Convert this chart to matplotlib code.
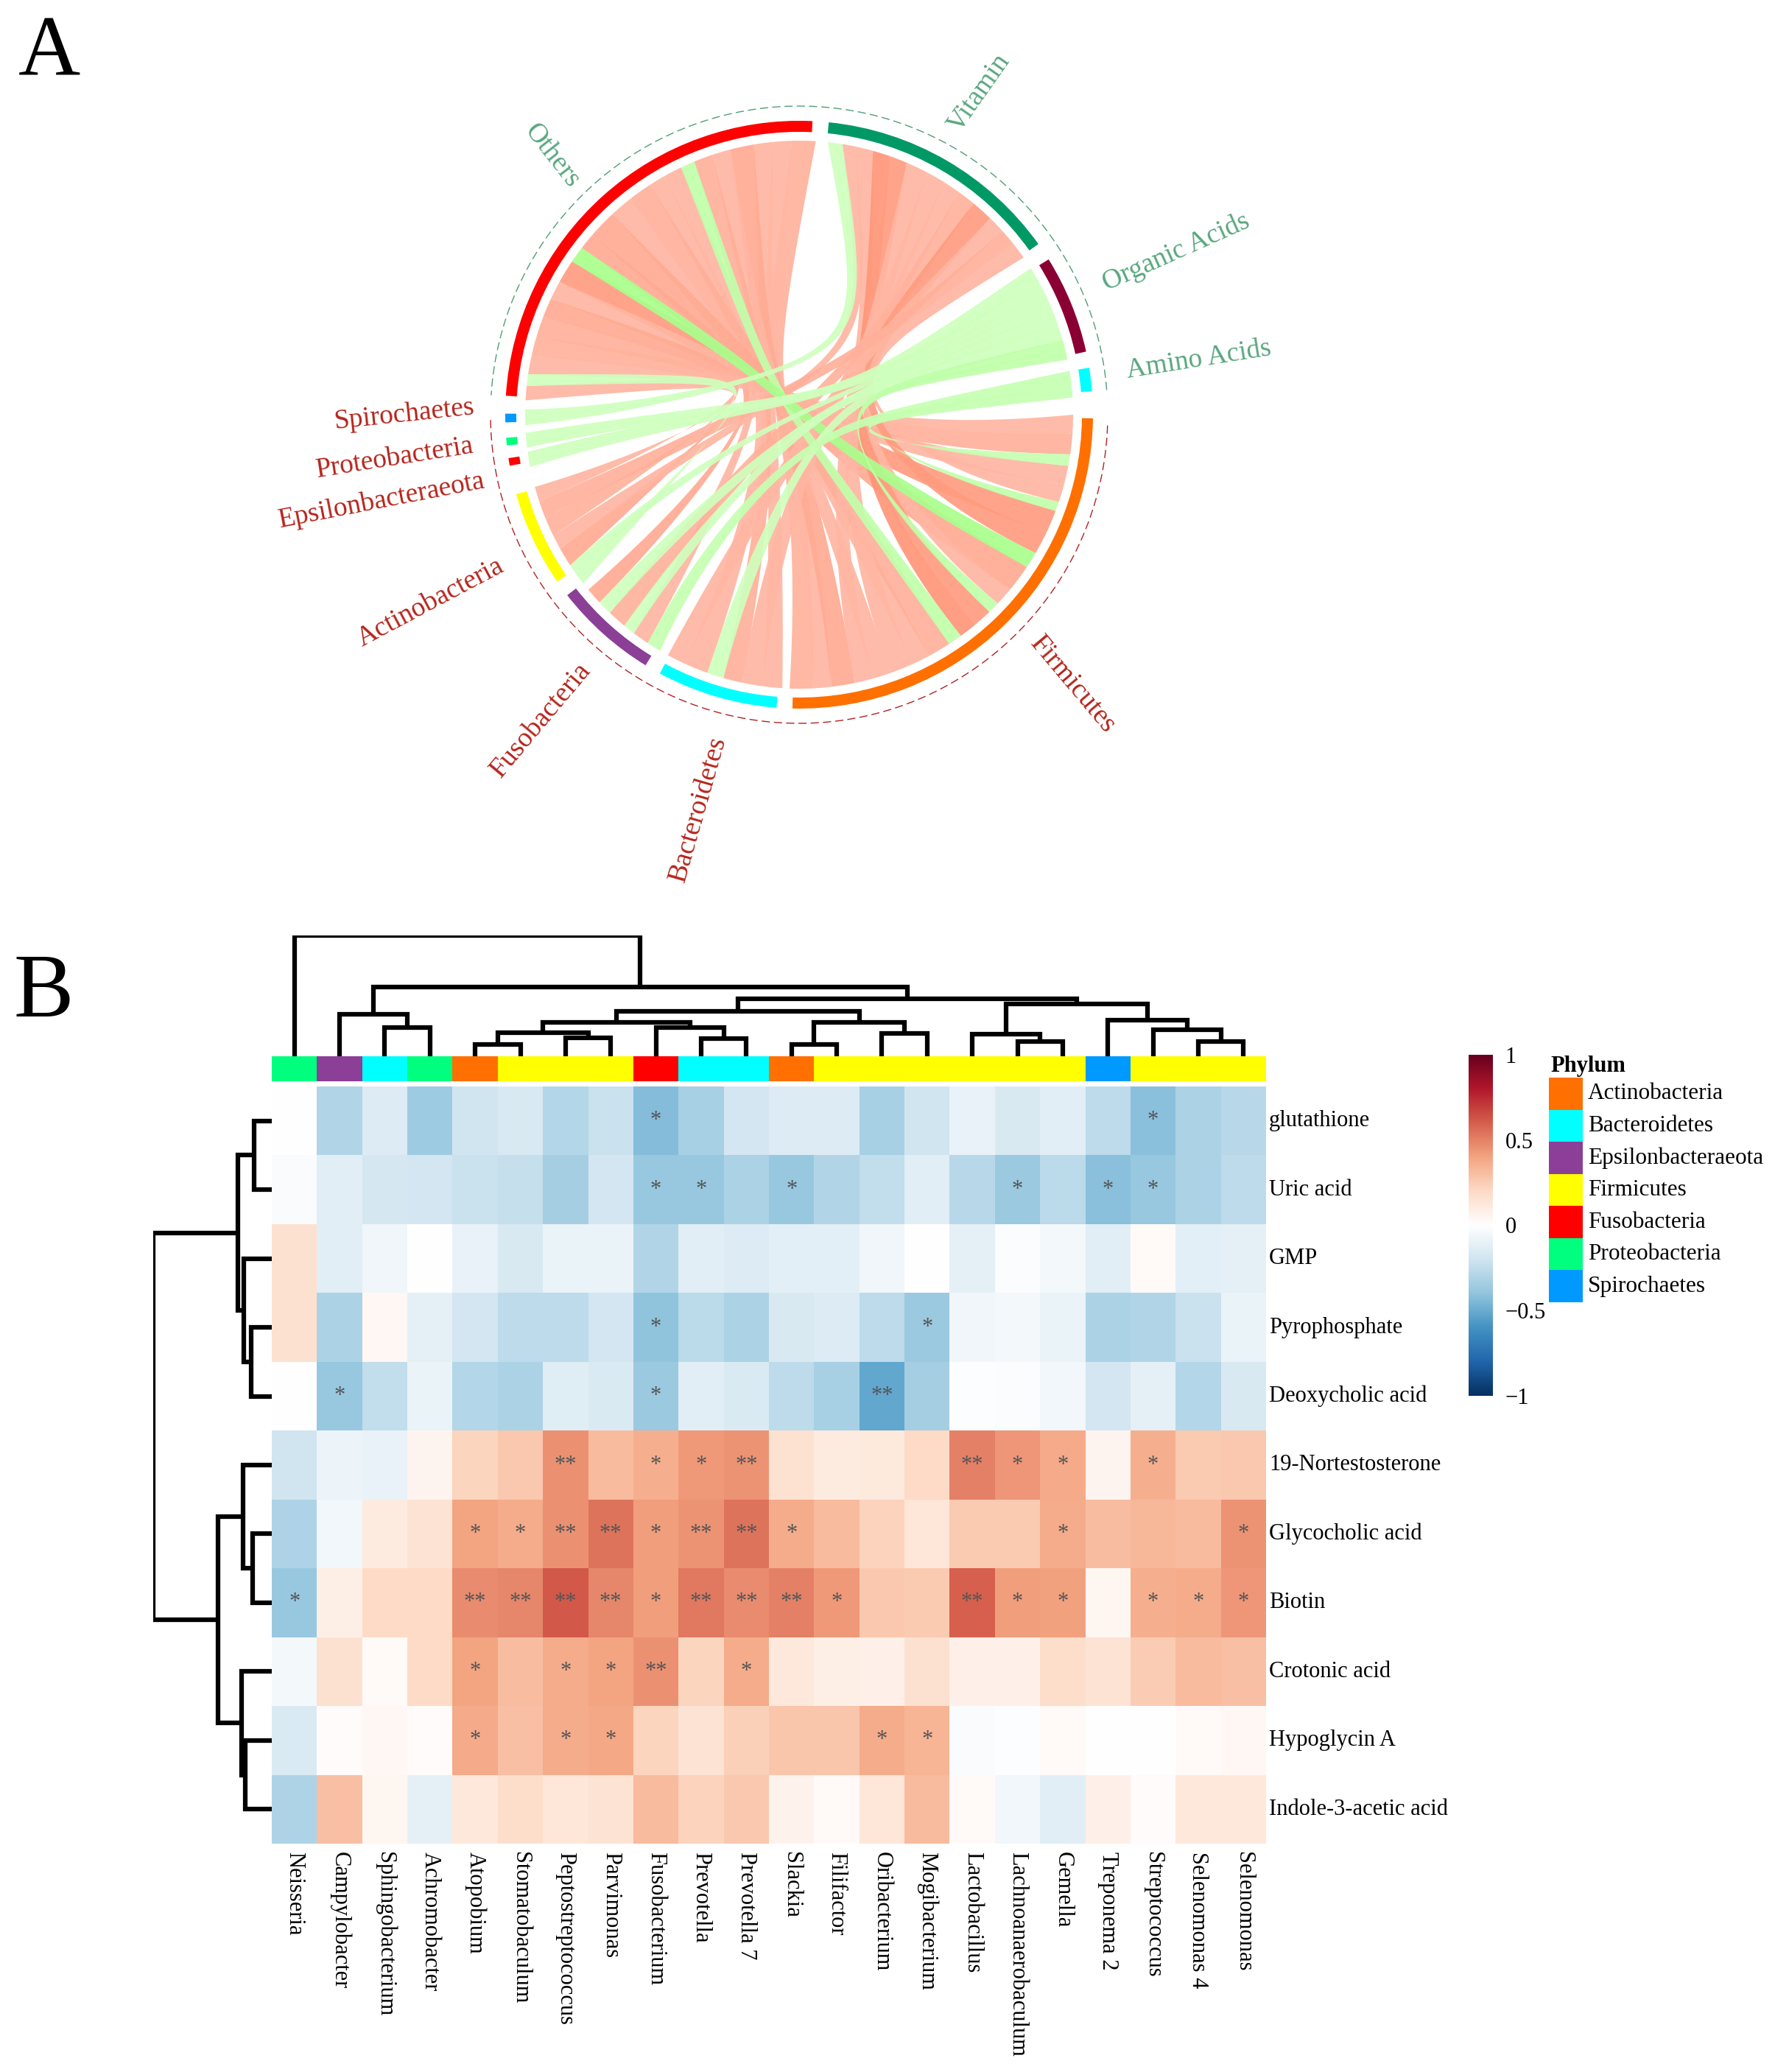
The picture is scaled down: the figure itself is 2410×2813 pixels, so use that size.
#!/usr/bin/env python3
import numpy as np
import matplotlib
matplotlib.use("Agg")
import matplotlib.pyplot as plt
from math import comb
from matplotlib.colors import LinearSegmentedColormap
from matplotlib.patches import Polygon, Wedge, Rectangle

plt.rcParams["font.family"] = ["Liberation Serif", "DejaVu Serif"]

W, H = 2410, 2813

genera = ["Neisseria", "Campylobacter", "Sphingobacterium", "Achromobacter", "Atopobium",
          "Stomatobaculum", "Peptostreptococcus", "Parvimonas", "Fusobacterium", "Prevotella",
          "Prevotella 7", "Slackia", "Filifactor", "Oribacterium", "Mogibacterium", "Lactobacillus",
          "Lachnoanaerobaculum", "Gemella", "Treponema 2", "Streptococcus", "Selenomonas 4", "Selenomonas"]
metabolites = ["glutathione", "Uric acid", "GMP", "Pyrophosphate", "Deoxycholic acid", "19-Nortestosterone",
               "Glycocholic acid", "Biotin", "Crotonic acid", "Hypoglycin A", "Indole-3-acetic acid"]
column_phylum = ["Proteobacteria", "Epsilonbacteraeota", "Bacteroidetes", "Proteobacteria", "Actinobacteria",
                 "Firmicutes", "Firmicutes", "Firmicutes", "Fusobacteria", "Bacteroidetes", "Bacteroidetes",
                 "Actinobacteria", "Firmicutes", "Firmicutes", "Firmicutes", "Firmicutes", "Firmicutes",
                 "Firmicutes", "Spirochaetes", "Firmicutes", "Firmicutes", "Firmicutes"]

corr = [
    [0.00, -0.30, -0.15, -0.36, -0.20, -0.17, -0.29, -0.22, -0.43, -0.33, -0.19, -0.15, -0.15, -0.33, -0.20, -0.10, -0.17, -0.13, -0.26, -0.42, -0.32, -0.28],
    [-0.03, -0.13, -0.18, -0.19, -0.22, -0.24, -0.34, -0.19, -0.38, -0.38, -0.32, -0.38, -0.30, -0.25, -0.13, -0.28, -0.37, -0.27, -0.42, -0.38, -0.32, -0.26],
    [0.17, -0.13, -0.07, 0.00, -0.10, -0.17, -0.09, -0.09, -0.30, -0.13, -0.15, -0.12, -0.12, -0.07, 0.00, -0.11, -0.02, -0.05, -0.13, 0.03, -0.12, -0.11],
    [0.17, -0.32, 0.04, -0.11, -0.19, -0.26, -0.26, -0.19, -0.40, -0.27, -0.32, -0.17, -0.15, -0.26, -0.37, -0.07, -0.05, -0.09, -0.32, -0.30, -0.22, -0.09],
    [0.00, -0.38, -0.25, -0.09, -0.29, -0.32, -0.14, -0.16, -0.37, -0.13, -0.16, -0.26, -0.33, -0.52, -0.34, -0.01, -0.02, -0.06, -0.19, -0.11, -0.29, -0.17],
    [-0.20, -0.08, -0.10, 0.06, 0.22, 0.27, 0.46, 0.32, 0.36, 0.43, 0.45, 0.16, 0.11, 0.12, 0.20, 0.50, 0.44, 0.38, 0.06, 0.36, 0.26, 0.27],
    [-0.31, -0.06, 0.11, 0.15, 0.40, 0.37, 0.46, 0.54, 0.42, 0.45, 0.54, 0.37, 0.32, 0.23, 0.14, 0.26, 0.26, 0.37, 0.31, 0.33, 0.32, 0.45],
    [-0.38, 0.09, 0.20, 0.20, 0.47, 0.49, 0.62, 0.49, 0.42, 0.53, 0.47, 0.50, 0.43, 0.27, 0.26, 0.60, 0.42, 0.41, 0.05, 0.36, 0.37, 0.44],
    [-0.05, 0.17, 0.03, 0.20, 0.40, 0.31, 0.37, 0.40, 0.46, 0.22, 0.37, 0.13, 0.09, 0.08, 0.17, 0.08, 0.08, 0.18, 0.15, 0.25, 0.32, 0.30],
    [-0.16, 0.02, 0.04, 0.02, 0.38, 0.30, 0.37, 0.39, 0.22, 0.15, 0.24, 0.28, 0.28, 0.37, 0.34, -0.03, -0.01, 0.03, 0.00, 0.00, 0.03, 0.04],
    [-0.31, 0.30, 0.05, -0.11, 0.13, 0.18, 0.14, 0.15, 0.32, 0.23, 0.27, 0.07, 0.03, 0.14, 0.32, 0.03, -0.06, -0.13, 0.08, 0.02, 0.13, 0.13],
]

sig_single = {0: [8, 19], 1: [8, 9, 11, 16, 18, 19], 3: [8, 14], 4: [1, 8],
              5: [8, 9, 16, 17, 19], 6: [4, 5, 8, 11, 17, 21], 7: [0, 8, 12, 16, 17, 19, 20, 21],
              8: [4, 6, 7, 10], 9: [4, 6, 7, 13, 14]}
sig_double = {4: [13], 5: [6, 10, 15], 6: [6, 7, 9, 10], 7: [4, 5, 6, 7, 9, 10, 11, 15], 8: [8]}

# merges as (child, child, height); ids from n_leaves upward are earlier merges
col_merges = [(4, 5, 32), (6, 7, 48), (22, 23, 63), (9, 10, 46), (8, 25, 77), (24, 26, 90),
              (11, 12, 32), (13, 14, 60), (28, 29, 90), (27, 30, 120), (16, 17, 40), (15, 32, 58),
              (20, 21, 40), (19, 34, 70), (18, 35, 95), (33, 36, 138), (31, 37, 152),
              (2, 3, 77), (1, 39, 112), (40, 38, 184), (0, 41, 320)]
row_merges = [(0, 1, 24), (3, 4, 28), (2, 12, 38), (11, 13, 46), (6, 7, 26), (5, 15, 39),
              (9, 10, 36), (8, 17, 41), (16, 18, 73), (14, 19, 161)]

phylum_names = ["Actinobacteria", "Bacteroidetes", "Epsilonbacteraeota", "Firmicutes",
                "Fusobacteria", "Proteobacteria", "Spirochaetes"]
phylum_colors = ["#FF7000", "#00FFFF", "#8B3F96", "#FFFF00", "#FF0000", "#00FF7F", "#0099FF"]

# sector: name -> track start, track end, chord start, chord end, colour
sectors = {
    "Others": (87.4, 176.3, 86.5, 177.0, "#FF0000"),
    "Vitamin": (84.2, 35.5, 84.0, 35.0, "#009966"),
    "Organic Acids": (31.9, 12.4, 32.3, 11.6, "#8B0033"),
    "Amino Acids": (9.2, 4.6, 9.2, 3.6, "#00FFFF"),
    "Firmicutes": (-0.7, -91.3, 0.0, -92.0, "#FF7000"),
    "Bacteroidetes": (265.6, 241.7, 266.5, 241.4, "#00FFFF"),
    "Fusobacteria": (238.5, 217.9, 239.5, 219.7, "#8B3F96"),
    "Actinobacteria": (214.6, 195.7, 218.0, 195.3, "#FFFF00"),
    "Epsilonbacteraeota": (190.0, 188.5, 191.0, 187.8, "#FF0000"),
    "Proteobacteria": (186.0, 184.5, 186.9, 183.8, "#00FF7F"),
    "Spirochaetes": (181.5, 179.8, 182.2, 178.9, "#0099FF"),
}

# where the ribbons of a sector pull towards, in pixels from the circle centre
hubs = {
    "Others": (-45, 51), "Vitamin": (95, 90), "Organic Acids": (75, 30), "Amino Acids": (85, -5),
    "Firmicutes": (15, -40), "Bacteroidetes": (-25, -55), "Fusobacteria": (-60, -40),
    "Actinobacteria": (-100, -15), "Epsilonbacteraeota": (-150, 0),
    "Proteobacteria": (-150, 5), "Spirochaetes": (-150, 10),
}

# chords: metabolite class, phylum, width, correlation, order inside the phylum
links = [
    ("Others", "Firmicutes", 5, .32, 23), ("Others", "Firmicutes", 4, .30, 22),
    ("Others", "Bacteroidetes", 4, .30, 1), ("Others", "Firmicutes", 5, .35, 21),
    ("Others", "Firmicutes", 4, .30, 19), ("Others", "Bacteroidetes", 4, .33, 3),
    ("Others", "Firmicutes", 3, -.30, 15), ("Others", "Firmicutes", 4, .30, 17),
    ("Others", "Fusobacteria", 3.5, .30, 2), ("Others", "Firmicutes", 5, .33, 16),
    ("Others", "Bacteroidetes", 5, .30, 5), ("Others", "Firmicutes", 6, .35, 10),
    ("Others", "Fusobacteria", 3.5, .35, 6), ("Others", "Firmicutes", 3.5, -.38, 9),
    ("Others", "Firmicutes", 5, .42, 7), ("Others", "Firmicutes", 4, .30, 4),
    ("Others", "Actinobacteria", 4, .35, 3), ("Others", "Firmicutes", 4.5, .33, 2),
    ("Others", "Actinobacteria", 4, .32, 5), ("Others", "Firmicutes", 4, .30, 1),
    ("Others", "Actinobacteria", 2.5, -.25, 1), ("Others", "Actinobacteria", 3, .30, 7),
    ("Vitamin", "Spirochaetes", 3.3, -.25, 1), ("Vitamin", "Actinobacteria", 3, .30, 4),
    ("Vitamin", "Firmicutes", 4, .30, 20), ("Vitamin", "Firmicutes", 4, .45, 14),
    ("Vitamin", "Firmicutes", 4, .42, 13), ("Vitamin", "Firmicutes", 5, .30, 18),
    ("Vitamin", "Bacteroidetes", 4.5, .30, 2), ("Vitamin", "Firmicutes", 4, .30, 11),
    ("Vitamin", "Fusobacteria", 4, .32, 4), ("Vitamin", "Firmicutes", 5, .42, 8),
    ("Vitamin", "Bacteroidetes", 4, .30, 6), ("Vitamin", "Actinobacteria", 3.5, .33, 6),
    ("Vitamin", "Firmicutes", 4, .30, 5),
    ("Organic Acids", "Epsilonbacteraeota", 3.4, -.25, 1), ("Organic Acids", "Proteobacteria", 3.1, -.25, 1),
    ("Organic Acids", "Actinobacteria", 2, -.25, 2), ("Organic Acids", "Fusobacteria", 2.5, -.25, 3),
    ("Organic Acids", "Fusobacteria", 3, -.25, 5), ("Organic Acids", "Bacteroidetes", 3.5, -.25, 4),
    ("Organic Acids", "Firmicutes", 2.5, -.30, 12), ("Organic Acids", "Firmicutes", 2, -.30, 6),
    ("Amino Acids", "Fusobacteria", 3, -.28, 1), ("Amino Acids", "Firmicutes", 2.5, -.28, 3),
]

class_labels = ["Others", "Vitamin", "Organic Acids", "Amino Acids"]
class_rot = [-52, 55, 24, 9]
class_xy = [(750, 212), (1329, 126), (1597, 342), (1628, 488)]
phyl_labels = ["Spirochaetes", "Proteobacteria", "Epsilonbacteraeota", "Actinobacteria",
               "Fusobacteria", "Bacteroidetes", "Firmicutes"]
phyl_rot = [6, 9, 11, 28, 50, 74, -50]
phyl_xy = [(549, 563), (536, 622), (518, 680), (585, 818), (734, 978), (948, 1099), (1457, 930)]

cbar_ticks = [-1, -0.5, 0, 0.5, 1]
cbar_ticklabels = ["\u22121", "\u22120.5", "0", "0.5", "1"]

heat_cmap = LinearSegmentedColormap.from_list(
    "heat", ["#053061", "#2166AC", "#4393C3", "#92C5DE", "#D1E5F0", "#FFFFFF",
             "#FDDBC7", "#F4A582", "#D6604D", "#B2182B", "#67001F"])
pos_cmap = LinearSegmentedColormap.from_list("pos", ["#FFB6A2", "#FF9678"])
neg_cmap = LinearSegmentedColormap.from_list("neg", ["#CFFFBD", "#A8FF8C"])


def px_axes(fig, x0, y0, x1, y1):
    # pixel box measured from the top left corner
    return fig.add_axes([x0 / W, 1 - y1 / H, (x1 - x0) / W, (y1 - y0) / H])


def put_text(fig, x, y, s, **kw):
    fig.text(x / W, 1 - y / H, s, **kw)


def polar(deg, r):
    a = np.deg2rad(deg)
    return r * np.cos(a), r * np.sin(a)


def slots(name, rows, side):
    start, end = sectors[name][2], sectors[name][3]
    total = sum(links[i][2] for i in rows)
    scale = (end - start) / total
    out = {}
    at = start
    for i in rows:
        nxt = at + links[i][2] * scale
        out[(i, side)] = (at, nxt)
        at = nxt
    return out


def layout_links():
    # walk each sector and hand out an angular slot to every chord
    spans = {}
    for name in class_labels:
        rows = [i for i, l in enumerate(links) if l[0] == name]
        spans.update(slots(name, rows, 0))
    for name in phyl_labels:
        rows = sorted([i for i, l in enumerate(links) if l[1] == name], key=lambda i: links[i][4])
        spans.update(slots(name, rows, 1))
    return spans


def bezier(ctrl, t):
    ctrl = np.array(ctrl, dtype=float)
    n = len(ctrl) - 1
    out = np.zeros((len(t), 2))
    for k, c in enumerate(ctrl):
        out += (comb(n, k) * t ** k * (1 - t) ** (n - k))[:, None] * c
    return out


def chord_polygon(a, b, r, hub_a, hub_b):
    # degree 5 ribbon: a wedge towards the class hub, keeps some body through the middle
    t = np.linspace(0, 1, 80)
    hub_a = np.array(hub_a, dtype=float)
    hub_b = np.array(hub_b, dtype=float)
    mid = (hub_a + hub_b) / 2
    # ribbon half thickness at the hubs, follows the width of the chord
    thick = np.deg2rad(a[1] - a[0]) * r * .24
    ang = np.deg2rad((a[0] + a[1]) / 2)
    side = np.array([-np.sin(ang), np.cos(ang)]) * thick

    def edge(p0, p1, off):
        a_pt = np.array(polar(p0, r))
        b_pt = np.array(polar(p1, r))
        return bezier([a_pt, hub_a + off, hub_a + off, mid + off, .75 * (hub_b + off) + .25 * b_pt, b_pt], t)

    hi, lo = edge(a[1], b[0], side), edge(a[0], b[1], -side)
    pts = [np.c_[polar(np.linspace(a[0], a[1], 10), r)],
           hi,
           np.c_[polar(np.linspace(b[0], b[1], 10), r)],
           lo[::-1]]
    return np.vstack(pts)


def dendro_segments(merges, n):
    pos = {i: float(i) for i in range(n)}
    hgt = {i: 0.0 for i in range(n)}
    segs = []
    for k, (p, q, h) in enumerate(merges):
        segs.append(([pos[p], pos[p], pos[q], pos[q]], [hgt[p], h, h, hgt[q]]))
        pos[n + k] = (pos[p] + pos[q]) / 2
        hgt[n + k] = h
    return segs


def draw_chords(fig):
    cx, cy, half = 1085, 563, 470
    ax = px_axes(fig, cx - half, cy - half, cx + half, cy + half)
    ax.set_xlim(-half, half)
    ax.set_ylim(-half, half)
    ax.axis("off")

    spans = layout_links()
    order = sorted(range(len(links)), key=lambda i: links[i][3] < 0)
    for i in order:
        val = links[i][3]
        col = pos_cmap((val - .3) / .15) if val > 0 else neg_cmap((-val - .25) / .13)
        poly = chord_polygon(sorted(spans[(i, 0)]), sorted(spans[(i, 1)]), 372,
                             hubs[links[i][0]], hubs[links[i][1]])
        ax.add_patch(Polygon(poly, closed=True, fc=col, ec="none", alpha=.92, zorder=2))

    for name, s in sectors.items():
        th0, th1 = sorted(s[:2])
        ax.add_patch(Wedge((0, 0), 399, th0, th1, width=15, fc=s[4], ec="none", zorder=3))

    th = np.linspace(4.6, 176.4, 400)
    ax.plot(*polar(th, 419), color="#4E9F75", lw=1.0, ls=(0, (8, 4)), zorder=1)
    th = np.linspace(-2, -179.7, 400)
    ax.plot(*polar(th, 419), color="#B22222", lw=1.0, ls=(0, (8, 4)), zorder=1)

    for s, rot, xy in zip(class_labels, class_rot, class_xy):
        put_text(fig, xy[0], xy[1], s, color="#5AA77F", fontsize=27, rotation=rot,
                 ha="center", va="center", rotation_mode="anchor")
    for s, rot, xy in zip(phyl_labels, phyl_rot, phyl_xy):
        put_text(fig, xy[0], xy[1], s, color="#B5251C", fontsize=27, rotation=rot,
                 ha="center", va="center", rotation_mode="anchor")


def draw_heatmap(fig):
    x0, x1, y0, y1 = 369, 1719, 1475, 2503
    ax = px_axes(fig, x0, y0, x1, y1)
    data = np.array(corr)
    ax.pcolormesh(np.arange(23), np.arange(12), data, cmap=heat_cmap, vmin=-1, vmax=1)
    ax.set_xlim(0, 22)
    ax.set_ylim(11, 0)
    for s in ax.spines.values():
        s.set_visible(False)
    ax.set_xticks(np.arange(22) + .5)
    ax.set_xticklabels(genera, rotation=270, fontsize=22, ha="center", va="top")
    ax.set_yticks(np.arange(11) + .5)
    ax.set_yticklabels(metabolites, fontsize=22, ha="left", va="center")
    ax.yaxis.tick_right()
    ax.tick_params(length=0, pad=3)
    ax.tick_params(axis="x", pad=8)

    for row, cols in sig_single.items():
        for c in cols:
            ax.text(c + .5, row + .5, "*", ha="center", va="center", fontsize=22, color="#555555")
    for row, cols in sig_double.items():
        for c in cols:
            ax.text(c + .5, row + .5, "**", ha="center", va="center", fontsize=22, color="#555555")

    bar = px_axes(fig, x0, 1434, x1, 1468)
    lookup = dict(zip(phylum_names, phylum_colors))
    for i, p in enumerate(column_phylum):
        bar.add_patch(Rectangle((i, 0), 1, 1, fc=lookup[p], ec="none"))
    bar.set_xlim(0, 22)
    bar.set_ylim(0, 1)
    bar.axis("off")

    top = px_axes(fig, x0, 1270, x1, 1434)
    for xs, ys in dendro_segments(col_merges, 22):
        top.plot(np.array(xs) + .5, ys, color="black", lw=4.5, solid_joinstyle="miter", solid_capstyle="butt")
    top.set_xlim(0, 22)
    top.set_ylim(0, 320)
    top.axis("off")

    left = px_axes(fig, 208, y0, x0, y1)
    for xs, ys in dendro_segments(row_merges, 11):
        left.plot(ys, np.array(xs) + .5, color="black", lw=4.5, solid_joinstyle="miter", solid_capstyle="butt")
    left.set_xlim(161, 0)
    left.set_ylim(11, 0)
    left.axis("off")


def draw_legends(fig):
    cax = px_axes(fig, 1994, 1432, 2027, 1895)
    grad = np.linspace(1, -1, 256).reshape(-1, 1)
    cax.imshow(grad, cmap=heat_cmap, vmin=-1, vmax=1, aspect="auto", extent=[0, 1, -1, 1])
    cax.set_xticks([])
    cax.yaxis.tick_right()
    cax.set_yticks(cbar_ticks)
    cax.set_yticklabels(cbar_ticklabels, fontsize=22)
    cax.tick_params(length=0, pad=12)
    for s in cax.spines.values():
        s.set_visible(False)

    lax = px_axes(fig, 2103, 1463, 2149, 1768)
    for i, c in enumerate(phylum_colors):
        lax.add_patch(Rectangle((0, i), 1, 1, fc=c, ec="none"))
        lax.text(1.15, i + .5, phylum_names[i], fontsize=22.5, va="center", ha="left", clip_on=False)
    lax.set_xlim(0, 1)
    lax.set_ylim(7, 0)
    lax.axis("off")
    put_text(fig, 2105, 1447, "Phylum", fontsize=22, fontweight="bold", ha="left", va="center")


def main():
    fig = plt.figure(figsize=(W / 100, H / 100), dpi=100)
    draw_chords(fig)
    draw_heatmap(fig)
    draw_legends(fig)
    put_text(fig, 67, 74, "A", fontsize=84, ha="center", va="center")
    put_text(fig, 59, 1350, "B", fontsize=88, ha="center", va="center")
    fig.savefig("out.png", dpi=100)


if __name__ == "__main__":
    main()
